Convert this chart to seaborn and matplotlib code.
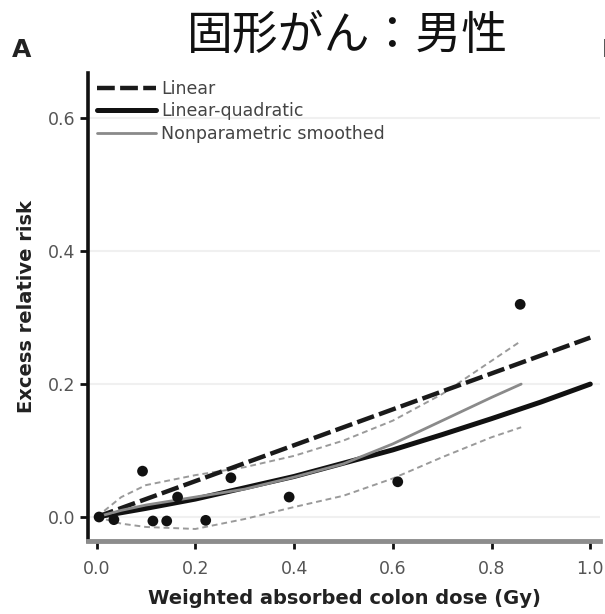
import seaborn as sns
import matplotlib.pyplot as plt
import pandas as pd

# observed excess relative risk by dose category
dose_pts = [0.005, 0.035, 0.093, 0.114, 0.142, 0.164, 0.221, 0.272, 0.39, 0.61, 0.858]
err_pts = [0.0, -0.004, 0.069, -0.006, -0.006, 0.030, -0.005, 0.059, 0.030, 0.053, 0.320]

# fitted linear model
lin_x = [0.0, 1.0]
lin_y = [0.0, 0.27]

# fitted linear-quadratic model
lq_x = [0.0, 0.1, 0.2, 0.3, 0.4, 0.5, 0.6, 0.7, 0.8, 0.9, 1.0]
lq_y = [0.0, 0.013, 0.027, 0.044, 0.061, 0.081, 0.101, 0.124, 0.148, 0.173, 0.200]

# nonparametric smoothed fit and its confidence band
sm_x = [0.0, 0.05, 0.1, 0.2, 0.3, 0.4, 0.5, 0.6, 0.7, 0.8, 0.86]
sm_y = [0.0, 0.010, 0.018, 0.030, 0.042, 0.060, 0.080, 0.110, 0.145, 0.180, 0.200]
sm_hi = [0.0, 0.030, 0.048, 0.063, 0.075, 0.092, 0.115, 0.145, 0.185, 0.235, 0.265]
sm_lo = [0.0, -0.010, -0.015, -0.018, -0.003, 0.015, 0.032, 0.058, 0.090, 0.120, 0.135]

xticks = [0.0, 0.2, 0.4, 0.6, 0.8, 1.0]
yticks = [0.0, 0.2, 0.4, 0.6]

sns.set_theme(style="white")
plt.rcParams["font.family"] = ["DejaVu Sans"]

fig = plt.figure(figsize=(6.05, 6.14), dpi=100)
ax = fig.add_axes([0.145, 0.119, 0.847, 0.762])

for yv in yticks:
    ax.axhline(yv, color="#f0f0f0", lw=1.5, zorder=0)

sm = pd.DataFrame({"dose": sm_x, "err": sm_y, "hi": sm_hi, "lo": sm_lo})
sns.lineplot(data=sm, x="dose", y="hi", ax=ax, color="#9a9a9a", lw=1.4,
             linestyle=(0, (3, 2)))
sns.lineplot(data=sm, x="dose", y="lo", ax=ax, color="#9a9a9a", lw=1.4,
             linestyle=(0, (3, 2)))
sns.lineplot(x=lin_x, y=lin_y, ax=ax, color="#1a1a1a", lw=3.2,
             linestyle=(0, (4, 1.2)), label="Linear")
sns.lineplot(x=lq_x, y=lq_y, ax=ax, color="#111111", lw=3.6, label="Linear-quadratic")
sns.lineplot(data=sm, x="dose", y="err", ax=ax, color="#8a8a8a", lw=2.0,
             label="Nonparametric smoothed")
sns.scatterplot(x=dose_pts, y=err_pts, ax=ax, color="#111111", s=60,
                edgecolor="none", zorder=5)

ax.set_xlim(-0.018, 1.02)
ax.set_ylim(-0.036, 0.668)
ax.set_xticks(xticks)
ax.set_yticks(yticks)
ax.set_xticklabels([f"{v:.1f}" for v in xticks])
ax.set_yticklabels([f"{v:.1f}" for v in yticks])
ax.tick_params(axis="both", labelsize=12.5, labelcolor="#555555", direction="out",
               length=6, width=2, color="#111111", bottom=True, left=True)
ax.tick_params(axis="x", pad=8)
ax.tick_params(axis="y", pad=3)

for side in ["top", "right"]:
    ax.spines[side].set_visible(False)
ax.spines["left"].set_color("#111111")
ax.spines["left"].set_linewidth(2.6)
ax.spines["bottom"].set_color("#8c8c8c")
ax.spines["bottom"].set_linewidth(3.5)

ax.set_xlabel("Weighted absorbed colon dose (Gy)", fontsize=14,
              fontweight="bold", color="#222222", labelpad=8)
ax.set_ylabel("Excess relative risk", fontsize=14, fontweight="bold",
              color="#222222", labelpad=8)

leg = ax.legend(loc="upper left", frameon=False, fontsize=12.5, handlelength=3.4,
                handletextpad=0.3, labelspacing=0.25, borderaxespad=0.0,
                bbox_to_anchor=(0.005, 1.0))
for txt in leg.get_texts():
    txt.set_color("#444444")

fig.text(0.575, 0.943, "固形がん：男性", fontsize=33, ha="center", va="center",
         family=["Noto Sans CJK JP", "DejaVu Sans"], color="#111111")
fig.text(0.035, 0.918, "A", fontsize=18, fontweight="bold", ha="center",
         va="center", color="#222222")
fig.text(0.995, 0.918, "B", fontsize=18, fontweight="bold", ha="left",
         va="center", color="#222222")

fig.savefig("out.png", dpi=100)
